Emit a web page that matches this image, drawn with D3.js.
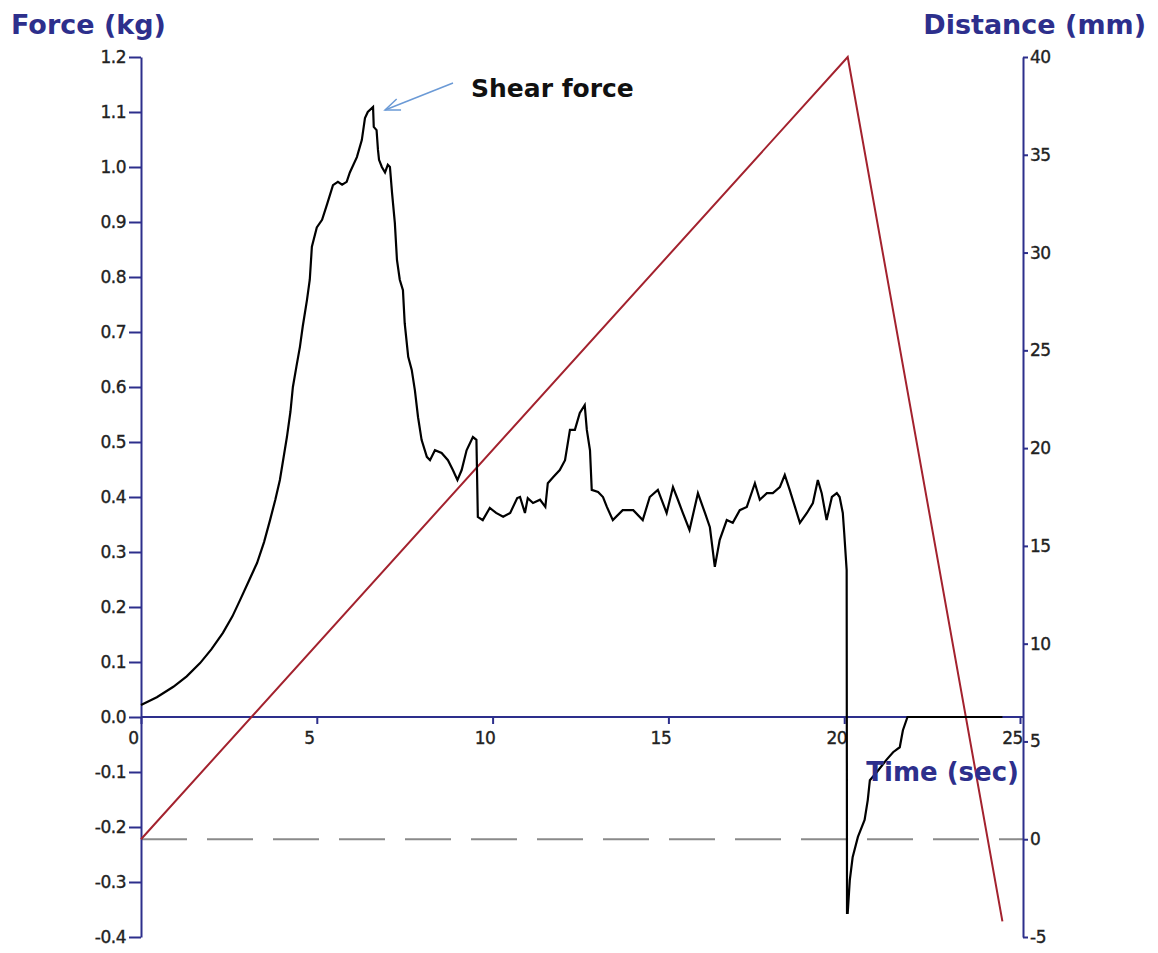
<!DOCTYPE html>
<html>
<head>
<meta charset="utf-8">
<script src="https://cdn.jsdelivr.net/npm/d3@7"></script>
<style>
  html, body { margin: 0; padding: 0; background: #ffffff; }
  svg { display: block; }
</style>
</head>
<body>
<svg id="chart" width="1158" height="953"></svg>
<script>
// ---------- DATA ----------
const forceTime = [0, 0.45, 0.92, 1.3, 1.68, 2.0, 2.33, 2.6, 2.82, 3.05, 3.3, 3.5, 3.67, 3.82, 3.95, 4.05, 4.15, 4.25, 4.32, 4.42, 4.52, 4.6, 4.72, 4.8, 4.86, 5.0, 5.15, 5.3, 5.46, 5.6, 5.72, 5.85, 5.94, 6.14, 6.28, 6.37, 6.45, 6.6, 6.62, 6.7, 6.74, 6.77, 6.85, 6.94, 7.02, 7.08, 7.14, 7.22, 7.28, 7.36, 7.45, 7.5, 7.6, 7.7, 7.79, 7.88, 7.98, 8.13, 8.22, 8.36, 8.55, 8.73, 8.87, 9.0, 9.12, 9.26, 9.44, 9.54, 9.58, 9.72, 9.92, 10.1, 10.3, 10.5, 10.7, 10.78, 10.92, 11.0, 11.15, 11.35, 11.5, 11.57, 11.72, 11.91, 12.06, 12.2, 12.34, 12.48, 12.62, 12.68, 12.77, 12.82, 13.0, 13.14, 13.25, 13.42, 13.7, 14.0, 14.27, 14.47, 14.7, 14.95, 15.13, 15.27, 15.41, 15.6, 15.84, 16.04, 16.18, 16.32, 16.46, 16.66, 16.83, 17.03, 17.23, 17.46, 17.6, 17.8, 17.97, 18.17, 18.31, 18.45, 18.6, 18.74, 18.94, 19.11, 19.25, 19.36, 19.5, 19.65, 19.79, 19.87, 19.96, 20.0, 20.07, 20.08, 20.1, 20.16, 20.24, 20.39, 20.58, 20.67, 20.73, 20.93, 21.2, 21.39, 21.58, 21.67, 21.8, 24.5];
const forceValues = [0.022, 0.036, 0.055, 0.074, 0.098, 0.123, 0.153, 0.183, 0.213, 0.245, 0.28, 0.318, 0.358, 0.395, 0.431, 0.47, 0.509, 0.555, 0.6, 0.637, 0.673, 0.71, 0.758, 0.795, 0.855, 0.89, 0.904, 0.934, 0.967, 0.973, 0.968, 0.973, 0.99, 1.018, 1.049, 1.089, 1.1, 1.109, 1.073, 1.067, 1.031, 1.013, 1.0, 0.99, 1.004, 1.0, 0.953, 0.898, 0.831, 0.795, 0.776, 0.716, 0.655, 0.631, 0.594, 0.545, 0.504, 0.473, 0.467, 0.485, 0.48, 0.467, 0.449, 0.431, 0.449, 0.485, 0.509, 0.504, 0.364, 0.358, 0.38, 0.371, 0.364, 0.371, 0.398, 0.4, 0.371, 0.398, 0.389, 0.395, 0.382, 0.425, 0.436, 0.449, 0.467, 0.522, 0.522, 0.553, 0.567, 0.522, 0.485, 0.413, 0.409, 0.4, 0.382, 0.358, 0.376, 0.376, 0.358, 0.4, 0.413, 0.371, 0.418, 0.395, 0.371, 0.34, 0.407, 0.371, 0.345, 0.273, 0.322, 0.358, 0.353, 0.376, 0.382, 0.425, 0.395, 0.407, 0.407, 0.418, 0.44, 0.413, 0.382, 0.353, 0.371, 0.389, 0.431, 0.407, 0.358, 0.4, 0.407, 0.4, 0.371, 0.335, 0.267, -0.356, -0.356, -0.296, -0.255, -0.218, -0.187, -0.151, -0.115, -0.1, -0.078, -0.064, -0.055, -0.024, 0.0, 0.0];

const distTime = [0, 20.1, 24.5];
const distValues = [0, 40, -4.2];

const timeTicks = [0, 5, 10, 15, 20, 25];
const forceTicks = [-0.4, -0.3, -0.2, -0.1, 0.0, 0.1, 0.2, 0.3, 0.4, 0.5, 0.6, 0.7, 0.8, 0.9, 1.0, 1.1, 1.2];
const distTicks = [-5, 0, 5, 10, 15, 20, 25, 30, 35, 40];

const titleForce = "Force (kg)";
const titleDist = "Distance (mm)";
const titleTime = "Time (sec)";
const annotationText = "Shear force";
const peakTime = 6.6, peakForce = 1.109;

// ---------- LAYOUT ----------
const navy = "#2d2f8c";
const svg = d3.select("#chart");
const plotLeft = 141, plotRight = 1020, rightAxisX = 1023, plotTop = 57, plotBottom = 937;
const tickFont = "DejaVu Sans, Verdana, sans-serif";
const titleFont = "DejaVu Sans, Verdana, sans-serif";

const x = d3.scaleLinear().domain([0, 25]).range([plotLeft, plotRight]);
const yF = d3.scaleLinear().domain([-0.4, 1.2]).range([plotBottom, plotTop]);
const yD = d3.scaleLinear().domain([-5, 40]).range([plotBottom, plotTop]);

const fmtF = d => d3.format(".1f")(d).replace("\u2212", "-");
const fmtD = d => String(d).replace("\u2212", "-");

function styleTicks(g) {
  g.selectAll(".tick text").attr("fill", "#222").attr("font-family", tickFont)
    .attr("font-size", 17).attr("letter-spacing", -0.5)
    .attr("stroke", "#222").attr("stroke-width", 0.35);
}

// dashed zero-distance line
svg.append("line")
  .attr("x1", x(0)).attr("x2", rightAxisX)
  .attr("y1", yD(0)).attr("y2", yD(0))
  .attr("stroke", "#8a8a8a").attr("stroke-width", 2)
  .attr("stroke-dasharray", "46,20");

// Left axis
const gL = svg.append("g").attr("transform", `translate(${plotLeft},0)`)
  .call(d3.axisLeft(yF).tickValues(forceTicks).tickFormat(fmtF).tickSize(12).tickSizeOuter(0).tickPadding(3));
gL.select(".domain").attr("stroke", navy).attr("stroke-width", 2);
gL.selectAll(".tick line").attr("stroke", navy).attr("stroke-width", 2);
styleTicks(gL);

// Right axis
const gR = svg.append("g").attr("transform", `translate(${rightAxisX},0)`)
  .call(d3.axisRight(yD).tickValues(distTicks).tickFormat(fmtD).tickSize(5).tickSizeOuter(0).tickPadding(2));
gR.select(".domain").attr("stroke", navy).attr("stroke-width", 2);
gR.selectAll(".tick line").attr("stroke", navy).attr("stroke-width", 2);
styleTicks(gR);

// Time axis along force = 0
const gX = svg.append("g").attr("transform", `translate(0,${yF(0)})`)
  .call(d3.axisBottom(x).tickValues(timeTicks).tickFormat(d => d).tickSize(7).tickSizeOuter(0).tickPadding(8));
gX.select(".domain").remove();
gX.selectAll(".tick line").attr("stroke", navy).attr("stroke-width", 2);
styleTicks(gX);
gX.selectAll(".tick text").attr("dx", -8);
svg.append("line")
  .attr("x1", x(0)).attr("x2", rightAxisX)
  .attr("y1", yF(0)).attr("y2", yF(0))
  .attr("stroke", navy).attr("stroke-width", 2);

// Distance line (red)
const distData = distTime.map((t, i) => [t, distValues[i]]);
svg.append("path")
  .datum(distData)
  .attr("fill", "none")
  .attr("stroke", "#a3222e")
  .attr("stroke-width", 2)
  .attr("d", d3.line().x(d => x(d[0])).y(d => yD(d[1])));

// Force line (black)
const forceData = forceTime.map((t, i) => [t, forceValues[i]]);
svg.append("path")
  .datum(forceData)
  .attr("fill", "none")
  .attr("stroke", "#000")
  .attr("stroke-width", 2.2)
  .attr("stroke-linejoin", "miter")
  .attr("d", d3.line().x(d => x(d[0])).y(d => yF(d[1])));

// Titles
svg.append("text").attr("x", 11).attr("y", 34).text(titleForce)
  .attr("font-family", titleFont).attr("font-weight", "bold").attr("font-size", 27).attr("fill", navy);
svg.append("text").attr("x", 1146).attr("y", 34).attr("text-anchor", "end").text(titleDist)
  .attr("font-family", titleFont).attr("font-weight", "bold").attr("font-size", 27).attr("fill", navy);
svg.append("text").attr("x", 1019).attr("y", 781).attr("text-anchor", "end").text(titleTime)
  .attr("font-family", titleFont).attr("font-weight", "bold").attr("font-size", 26).attr("fill", navy);

// Annotation
svg.append("text").attr("x", 471).attr("y", 97).text(annotationText)
  .attr("font-family", titleFont).attr("font-weight", "bold")
  .attr("font-size", 25).attr("fill", "#111");
const ax = x(peakTime) + 12, ay = yF(peakForce) + 3;
const bx = 453, by = 83;
const ang = Math.atan2(by - ay, bx - ax);
svg.append("line").attr("x1", bx).attr("y1", by).attr("x2", ax).attr("y2", ay)
  .attr("stroke", "#6b9ad6").attr("stroke-width", 1.5);
const hl = 16, ha = 0.38;
svg.append("path")
  .attr("d", `M${ax + hl * Math.cos(ang + ha)},${ay + hl * Math.sin(ang + ha)} L${ax},${ay} L${ax + hl * Math.cos(ang - ha)},${ay + hl * Math.sin(ang - ha)}`)
  .attr("fill", "none").attr("stroke", "#6b9ad6").attr("stroke-width", 1.5);
</script>
</body>
</html>
